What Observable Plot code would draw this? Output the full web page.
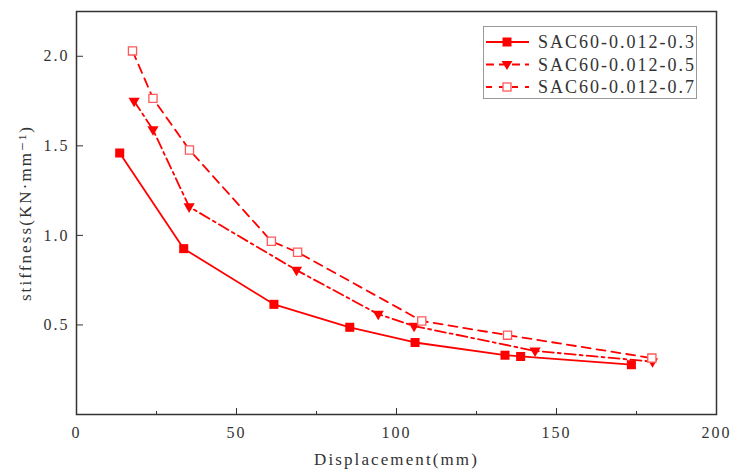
<!DOCTYPE html>
<html>
<head>
<meta charset="utf-8">
<script src="https://cdn.jsdelivr.net/npm/d3@7"></script>
<script src="https://cdn.jsdelivr.net/npm/@observablehq/plot@0.6"></script>
<style>
  html, body { margin: 0; padding: 0; background: #fff; }
  #wrap { position: relative; width: 730px; height: 471px; }
  #legend { position: absolute; left: 483px; top: 26px; width: 214px; height: 73px;
            border: 1px solid #999; background: #fff; box-sizing: border-box; }
  #legend svg { display: block; }
  #legend text { letter-spacing: 2.0px; }
  g[aria-label="x-axis tick label"] text, g[aria-label="y-axis tick label"] text { letter-spacing: 2px; }
  g[aria-label="x-axis label"] text, g[aria-label="y-axis label"] text { letter-spacing: 2.1px; }
</style>
</head>
<body>
<div id="wrap"><div id="legend"></div></div>
<script>
// ---- data ----
const seriesNames = ["SAC60-0.012-0.3", "SAC60-0.012-0.5", "SAC60-0.012-0.7"];
const disp03 = [13.5, 33.5, 61.7, 85.4, 105.8, 133.9, 138.8, 173.4];
const stiff03 = [1.46, 0.926, 0.615, 0.487, 0.402, 0.331, 0.324, 0.278];
const disp05 = [18.0, 23.9, 35.2, 68.75, 94.3, 105.5, 143.3, 180.0];
const stiff05 = [1.75, 1.59, 1.16, 0.806, 0.56, 0.494, 0.355, 0.295];
const disp07 = [17.5, 23.9, 35.3, 60.9, 69.1, 107.9, 134.7, 179.8];
const stiff07 = [2.03, 1.765, 1.477, 0.967, 0.906, 0.522, 0.443, 0.315];
const xTicks = [0, 50, 100, 150, 200];
const xMinorTicks = [25, 75, 125, 175];
const yTicks = [0.5, 1.0, 1.5, 2.0];

const toRows = (xs, ys) => xs.map((x, i) => ({x, y: ys[i]}));
const d03 = toRows(disp03, stiff03);
const d05 = toRows(disp05, stiff05);
const d07 = toRows(disp07, stiff07);

const RED = "#ff0000";
const PINK = "#ff5a5a";
const triangleDown = {
  draw(ctx, size) {
    const r = Math.sqrt(size / Math.PI);
    ctx.moveTo(-r, -0.6 * r);
    ctx.lineTo(r, -0.6 * r);
    ctx.lineTo(0, 1.1 * r);
    ctx.closePath();
  }
};
const dash05 = "11,4,3,4";
const dash07 = "9,6";

const font = "'Liberation Serif', 'DejaVu Serif', serif";

const chart = Plot.plot({
  width: 730,
  height: 471,
  marginLeft: 76,
  marginRight: 14,
  marginTop: 11,
  marginBottom: 57,
  style: {fontFamily: font, fontSize: "16px", color: "#333", background: "#fff"},
  x: {domain: [0, 200]},
  y: {domain: [0, 2.25]},
  marks: [
    Plot.line(d03, {x: "x", y: "y", stroke: RED, strokeWidth: 1.8}),
    Plot.line(d05, {x: "x", y: "y", stroke: RED, strokeWidth: 1.8, strokeDasharray: dash05}),
    Plot.line(d07, {x: "x", y: "y", stroke: RED, strokeWidth: 1.8, strokeDasharray: dash07}),
    Plot.dot(d03, {x: "x", y: "y", symbol: "square", r: 5.1, fill: RED, stroke: "none"}),
    Plot.dot(d05, {x: "x", y: "y", symbol: triangleDown, r: 5.6, fill: RED, stroke: "none"}),
    Plot.dot(d07, {x: "x", y: "y", symbol: "square", r: 4.6, fill: "#fff", stroke: PINK, strokeWidth: 1.3}),
    Plot.axisX({ticks: xTicks, tickSize: -6, tickPadding: 18, tickFormat: d3.format("d"), label: null, stroke: "#333"}),
    Plot.axisX({ticks: xMinorTicks, tickSize: -3, text: null, label: null, stroke: "#333"}),
    Plot.axisX({ticks: [], label: "Displacement(mm)", labelAnchor: "center", labelArrow: "none", labelOffset: 50, fontSize: 17}),
    Plot.axisY({ticks: yTicks, tickSize: -7, tickPadding: 14, tickFormat: d3.format(".1f"), label: null, stroke: "#333"}),
    Plot.axisY({ticks: [], label: "stiffness(KN·mm⁻¹)", labelAnchor: "center", labelArrow: "none", labelOffset: 58, fontSize: 17}),
    Plot.frame({stroke: "#333", strokeWidth: 1.5})
  ]
});
document.getElementById("wrap").prepend(chart);

// ---- legend ----
const legendItems = [
  {name: seriesNames[0], dash: null, kind: "square"},
  {name: seriesNames[1], dash: dash05, kind: "tri"},
  {name: seriesNames[2], dash: dash07, kind: "open"}
];
const ns = "http://www.w3.org/2000/svg";
const lsvg = document.createElementNS(ns, "svg");
lsvg.setAttribute("width", 212);
lsvg.setAttribute("height", 71);
lsvg.style.fontFamily = font;
lsvg.style.fontSize = "18px";
legendItems.forEach((it, i) => {
  const cy = 15 + i * 22.5;
  const line = document.createElementNS(ns, "line");
  line.setAttribute("x1", 2); line.setAttribute("x2", 45);
  line.setAttribute("y1", cy); line.setAttribute("y2", cy);
  line.setAttribute("stroke", RED); line.setAttribute("stroke-width", 1.8);
  if (it.dash) line.setAttribute("stroke-dasharray", it.kind === "tri" ? "8,5" : "6,7");
  lsvg.appendChild(line);
  let m;
  const cx = 23;
  if (it.kind === "square") {
    m = document.createElementNS(ns, "rect");
    m.setAttribute("x", cx - 4.5); m.setAttribute("y", cy - 4.5);
    m.setAttribute("width", 9); m.setAttribute("height", 9);
    m.setAttribute("fill", RED);
  } else if (it.kind === "tri") {
    m = document.createElementNS(ns, "path");
    m.setAttribute("d", `M${cx-5.5},${cy-3.5}L${cx+5.5},${cy-3.5}L${cx},${cy+5.5}Z`);
    m.setAttribute("fill", RED);
  } else {
    m = document.createElementNS(ns, "rect");
    m.setAttribute("x", cx - 4); m.setAttribute("y", cy - 4);
    m.setAttribute("width", 8); m.setAttribute("height", 8);
    m.setAttribute("fill", "#fff"); m.setAttribute("stroke", PINK); m.setAttribute("stroke-width", 1.3);
  }
  lsvg.appendChild(m);
  const t = document.createElementNS(ns, "text");
  t.setAttribute("x", 54); t.setAttribute("y", cy);
  t.setAttribute("dy", "0.35em");
  t.setAttribute("fill", "#333");
  t.textContent = it.name;
  lsvg.appendChild(t);
});
document.getElementById("legend").appendChild(lsvg);
</script>
</body>
</html>
